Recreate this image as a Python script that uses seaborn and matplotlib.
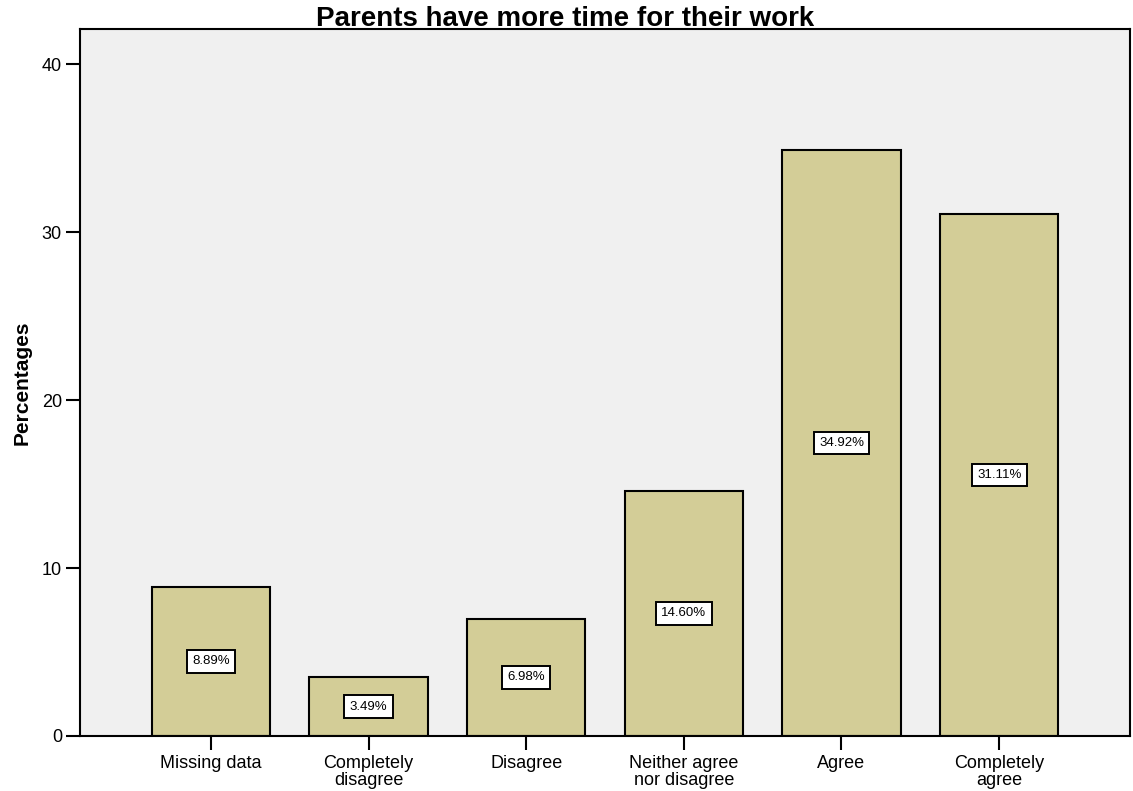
import matplotlib
matplotlib.use("Agg")
import matplotlib.pyplot as plt
import seaborn as sns
import pandas as pd

categories = ["Missing data", "Completely\ndisagree", "Disagree",
              "Neither agree\nnor disagree", "Agree", "Completely\nagree"]
percentages = [8.89, 3.49, 6.98, 14.60, 34.92, 31.11]
value_labels = ["8.89%", "3.49%", "6.98%", "14.60%", "34.92%", "31.11%"]
yticks = [0, 10, 20, 30, 40]

sns.set_theme(style="ticks")
plt.rcParams['font.family'] = ['Liberation Sans', 'DejaVu Sans']
plt.rcParams.update({"text.color": "black", "axes.labelcolor": "black",
                     "xtick.color": "black", "ytick.color": "black"})

df = pd.DataFrame({"cat": categories, "pct": percentages})

fig = plt.figure(figsize=(11.33, 7.91), dpi=100)
ax = fig.add_axes([80/1133, 55/791, 1050/1133, 707/791])
ax.set_facecolor("#F0F0F0")

sns.barplot(data=df, x="cat", y="pct", ax=ax, color="#D3CD97",
            width=0.75, edgecolor="black", linewidth=1.5, saturation=1)

for i, (v, lab) in enumerate(zip(percentages, value_labels)):
    ax.text(i, v / 2, lab, ha="center", va="center", fontsize=9.5, color="black",
            bbox=dict(boxstyle="square,pad=0.4", fc="white", ec="black", lw=1.4))

ax.set_xlim(-0.83, 5.83)
ax.set_ylim(0, 42.1)
ax.set_yticks(yticks)
ax.set_xlabel("")
ax.set_ylabel("Percentages", fontsize=15, fontweight="bold", color="black")
ax.yaxis.set_label_coords(-0.046, 0.5)
ax.tick_params(axis="both", direction="out", length=10, width=1.5, labelsize=13,
               color="black", labelcolor="black")
ax.tick_params(axis="x", pad=4)
ax.tick_params(axis="y", pad=3)
for t in ax.get_xticklabels():
    t.set_linespacing(0.95)
for s in ax.spines.values():
    s.set_linewidth(1.5)
    s.set_color("black")
    s.set_visible(True)

fig.text(0.499, 0.976, "Parents have more time for their work", ha="center", va="center",
         fontsize=20, fontweight="bold", color="black")

fig.savefig("out.png", dpi=100)
